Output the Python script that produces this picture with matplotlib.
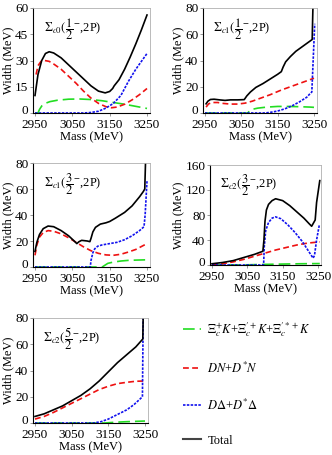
import matplotlib
matplotlib.use("Agg")
import matplotlib.pyplot as plt
import matplotlib.transforms as mtransforms
from matplotlib.lines import Line2D

plt.rcParams['font.family'] = ['Liberation Serif', 'DejaVu Serif']
plt.rcParams['mathtext.fontset'] = 'stix'

# panel 1: Sigma_c0(1/2-, 2P)
p1_tot_x = [2950, 2958, 2968, 2978, 2988, 3000, 3020, 3040, 3060, 3080, 3100, 3120, 3138, 3150, 3158, 3162, 3175, 3190, 3205, 3220, 3235, 3250]
p1_tot_y = [10, 22, 30, 34, 35, 34.3, 31.5, 27.5, 23.5, 19.5, 15.5, 12.5, 11.5, 12.3, 14, 15.5, 19, 25, 32, 39.5, 47.5, 56]
p1_dn_x = [2953, 2958, 2966, 2976, 2988, 3000, 3020, 3040, 3060, 3080, 3100, 3120, 3140, 3155, 3170, 3190, 3210, 3230, 3250]
p1_dn_y = [22, 27, 29.5, 30, 29.5, 28, 25, 21, 17, 12.5, 8.5, 5.5, 3.6, 3, 3.4, 5, 7.5, 10.5, 14]
p1_xk_x = [2950, 2958, 2962, 2968, 2975, 2990, 3010, 3040, 3070, 3100, 3130, 3160, 3190, 3220, 3250]
p1_xk_y = [0, 0, 2, 4, 5.3, 6.5, 7.3, 7.9, 8, 7.7, 7, 6, 5, 3.8, 2.6]
p1_dd_x = [2950, 3080, 3100, 3120, 3140, 3160, 3180, 3200, 3220, 3250]
p1_dd_y = [0, 0, 0.3, 1, 2.8, 5.5, 10, 18, 25, 34]

# panel 2: Sigma_c1(1/2-, 2P)
p2_tot_x = [2953, 2958, 2965, 2975, 2990, 3005, 3020, 3040, 3058, 3065, 3075, 3090, 3110, 3130, 3150, 3160, 3165, 3172, 3185, 3200, 3220, 3240, 3245, 3247]
p2_tot_y = [7, 9, 10.3, 10.5, 10, 9.6, 10, 10, 10.2, 13, 16, 19.5, 22.5, 26, 29.5, 31.5, 35, 39, 43, 47, 51, 55, 56, 80]
p2_dn_x = [2953, 2960, 2970, 2985, 3000, 3020, 3040, 3060, 3080, 3100, 3130, 3160, 3190, 3220, 3250]
p2_dn_y = [4.5, 7, 8, 8, 7.3, 6.8, 6.8, 7.5, 9, 11, 14, 17.5, 20.5, 23.5, 26.5]
p2_xk_x = [2950, 3068, 3072, 3080, 3095, 3120, 3150, 3180, 3210, 3240, 3250]
p2_xk_y = [0, 0, 1.5, 2.8, 3.7, 4.5, 5, 5, 4.8, 4.5, 4.3]
p2_dd_x = [2950, 3115, 3130, 3150, 3170, 3190, 3210, 3230, 3240, 3244, 3252]
p2_dd_y = [0, 0, 0.5, 1.5, 3.2, 5.5, 8.5, 12, 15, 16, 68]

# panel 3: Sigma_c1(3/2-, 2P)
p3_tot_x = [2950, 2955, 2962, 2972, 2985, 3000, 3020, 3040, 3055, 3062, 3068, 3075, 3090, 3097, 3100, 3105, 3112, 3125, 3140, 3150, 3165, 3190, 3210, 3230, 3240, 3244, 3246]
p3_tot_y = [12, 19, 25, 29.5, 31.5, 31, 28, 24, 20, 18, 19.5, 20.5, 20, 19.5, 22, 27, 30.5, 33, 34, 35, 37.5, 42, 47, 54, 58, 60, 80]
p3_dn_x = [2950, 2955, 2962, 2972, 2985, 3000, 3020, 3040, 3060, 3080, 3100, 3120, 3140, 3160, 3180, 3200, 3220, 3250]
p3_dn_y = [9, 17, 23, 26.5, 28, 27.5, 25.5, 22.5, 19, 15.5, 12.5, 10.5, 9.3, 9, 9.8, 11.5, 13.5, 18]
p3_xk_x = [2950, 3130, 3138, 3145, 3160, 3180, 3200, 3220, 3245]
p3_xk_y = [0, 0, 1.5, 2.8, 3.8, 4.6, 5.1, 5.3, 5.5]
p3_dd_x = [2950, 3098, 3100, 3105, 3110, 3118, 3130, 3150, 3170, 3190, 3210, 3230, 3242, 3245, 3250]
p3_dd_y = [0, 0, 5, 11, 14, 16, 17, 18, 19, 21, 24, 28, 31, 40, 66]

# panel 4: Sigma_c2(3/2-, 2P)
p4_tot_x = [2950, 2980, 3010, 3040, 3070, 3094, 3097, 3100, 3104, 3110, 3120, 3130, 3150, 3170, 3190, 3210, 3225, 3232, 3238, 3242, 3246, 3255]
p4_tot_y = [2, 4, 7, 12, 17, 22, 40, 70, 88, 97, 103, 106, 103, 95, 85, 75, 66, 62, 68, 72, 100, 135]
p4_dn_x = [2950, 2980, 3010, 3040, 3070, 3100, 3130, 3160, 3190, 3220, 3255]
p4_dn_y = [0, 2, 5, 9, 14, 19, 24, 28, 32, 35, 37]
p4_xk_x = [2950, 3050, 3100, 3150, 3200, 3255]
p4_xk_y = [0, 0.3, 1, 1.5, 2, 2.3]
p4_dd_x = [2950, 3096, 3098, 3102, 3110, 3120, 3130, 3145, 3165, 3185, 3205, 3220, 3236, 3240, 3246, 3254]
p4_dd_y = [0, 0, 30, 55, 68, 75, 77, 74, 64, 52, 38, 25, 11, 15, 40, 65]

# panel 5: Sigma_c2(5/2-, 2P)
p5_tot_x = [2950, 2975, 3000, 3025, 3050, 3075, 3100, 3125, 3150, 3175, 3200, 3225, 3244, 3245]
p5_tot_y = [5, 7, 10, 13, 17, 21, 26, 32, 39, 46, 52, 58, 64, 80]
p5_dn_x = [2950, 2975, 3000, 3025, 3050, 3075, 3100, 3125, 3150, 3175, 3200, 3225, 3250]
p5_dn_y = [3, 5, 8, 11.5, 15, 18.5, 22, 25.5, 28, 30, 31, 31.8, 32]
p5_xk_x = [2950, 3140, 3170, 3200, 3250]
p5_xk_y = [0, 0, 0.6, 1, 1.5]
p5_dd_x = [2950, 3110, 3130, 3150, 3175, 3200, 3220, 3243, 3245]
p5_dd_y = [0, 0, 1, 3, 6.5, 10, 14, 20, 80]

titles = [r"$\Sigma_{c0}(\dfrac{1}{2}^{-}$,2P)", r"$\Sigma_{c1}(\dfrac{1}{2}^{-}$,2P)",
          r"$\Sigma_{c1}(\dfrac{3}{2}^{-}$,2P)", r"$\Sigma_{c2}(\dfrac{3}{2}^{-}$,2P)",
          r"$\Sigma_{c2}(\dfrac{5}{2}^{-}$,2P)"]
yticks = [[0, 15, 30, 45, 60], [0, 20, 40, 60, 80], [0, 20, 40, 60, 80],
          [0, 40, 80, 120, 160], [0, 20, 40, 60, 80]]
xticks = [2950, 3050, 3150, 3250]
legend_labels = [r"$\Xi_c^{+}K$+$\Xi_c^{\prime +}K$+$\Xi_c^{\prime *+}K$",
                 r"$DN$+$D^{*}N$", r"$D\Delta$+$D^{*}\Delta$", "Total"]

panels = [
    (p1_xk_x, p1_xk_y, p1_dn_x, p1_dn_y, p1_dd_x, p1_dd_y, p1_tot_x, p1_tot_y),
    (p2_xk_x, p2_xk_y, p2_dn_x, p2_dn_y, p2_dd_x, p2_dd_y, p2_tot_x, p2_tot_y),
    (p3_xk_x, p3_xk_y, p3_dn_x, p3_dn_y, p3_dd_x, p3_dd_y, p3_tot_x, p3_tot_y),
    (p4_xk_x, p4_xk_y, p4_dn_x, p4_dn_y, p4_dd_x, p4_dd_y, p4_tot_x, p4_tot_y),
    (p5_xk_x, p5_xk_y, p5_dn_x, p5_dn_y, p5_dd_x, p5_dd_y, p5_tot_x, p5_tot_y),
]

W, H = 332, 455
XLIM = (2945, 3258)
# pixel positions: x of 2950, x of 3250, y of 0, y of top tick
boxes = [(35, 147, 113, 8), (205, 314, 113, 8), (35, 147, 267, 163),
         (212, 318, 265, 165), (35, 145, 423, 318)]

fig = plt.figure(figsize=(W / 100, H / 100), dpi=100)

styles = dict(
    xk=dict(color='#22dd22', ls=(0, (7, 3)), lw=1.2),
    dn=dict(color='#ee1111', ls=(0, (3.5, 2)), lw=1.2),
    dd=dict(color='#1111ee', ls=(0, (1.5, 0.8)), lw=1.2),
    tot=dict(color='black', ls='-', lw=1.2),
)

# small upward nudge for the "0" label so it doesn't collide with "2950"
nudge = mtransforms.ScaledTranslation(0, 3.5 / 100, fig.dpi_scale_trans)

for i, (data, box) in enumerate(zip(panels, boxes)):
    xa, xb, y0, yt = box
    sx = (xb - xa) / 300.0
    left = xa - (2950 - XLIM[0]) * sx
    right = xb + (XLIM[1] - 3250) * sx
    ytop = yticks[i][-1]
    ax = fig.add_axes([left / W, 1 - y0 / H, (right - left) / W, (y0 - yt) / H])
    xk_x, xk_y, dn_x, dn_y, dd_x, dd_y, tot_x, tot_y = data
    ax.plot(xk_x, xk_y, clip_on=False, **styles['xk'])
    ax.plot(dn_x, dn_y, clip_on=False, **styles['dn'])
    ax.plot(dd_x, dd_y, clip_on=False, **styles['dd'])
    ax.plot(tot_x, tot_y, **styles['tot'])
    ax.set_xlim(XLIM)
    ax.set_ylim(0, ytop)
    ax.set_xticks(xticks)
    ax.set_yticks(yticks[i])
    ax.tick_params(labelsize=9.5, direction='out', length=2, width=0.6, color='#888888')
    ax.tick_params(axis='x', pad=2.5)
    ax.tick_params(axis='y', pad=1.5)
    lab0 = ax.get_yticklabels()[0]
    lab0.set_transform(lab0.get_transform() + nudge)
    ax.set_xlabel("Mass (MeV)", fontsize=9, labelpad=0)
    ax.set_ylabel("Width (MeV)", fontsize=9, labelpad=0.5)
    for s in ['left', 'bottom']:
        ax.spines[s].set_color('black')
        ax.spines[s].set_linewidth(0.8)
    for s in ['top', 'right']:
        ax.spines[s].set_color('#b0b0b0')
        ax.spines[s].set_linewidth(0.6)
    ax.text(0.09, 0.8, titles[i], transform=ax.transAxes, fontsize=9, va='center')

handles = [Line2D([], [], **styles['xk']), Line2D([], [], **styles['dn']),
           Line2D([], [], **styles['dd']), Line2D([], [], color='#444444', lw=1.5)]
fig.legend(handles, legend_labels, loc='upper left', bbox_to_anchor=(183 / W, 1 - 320 / H),
           frameon=False, fontsize=9, handlelength=1.4, handletextpad=0.55,
           labelspacing=1.75, borderpad=0, borderaxespad=0)

fig.savefig("out.png", dpi=100)
